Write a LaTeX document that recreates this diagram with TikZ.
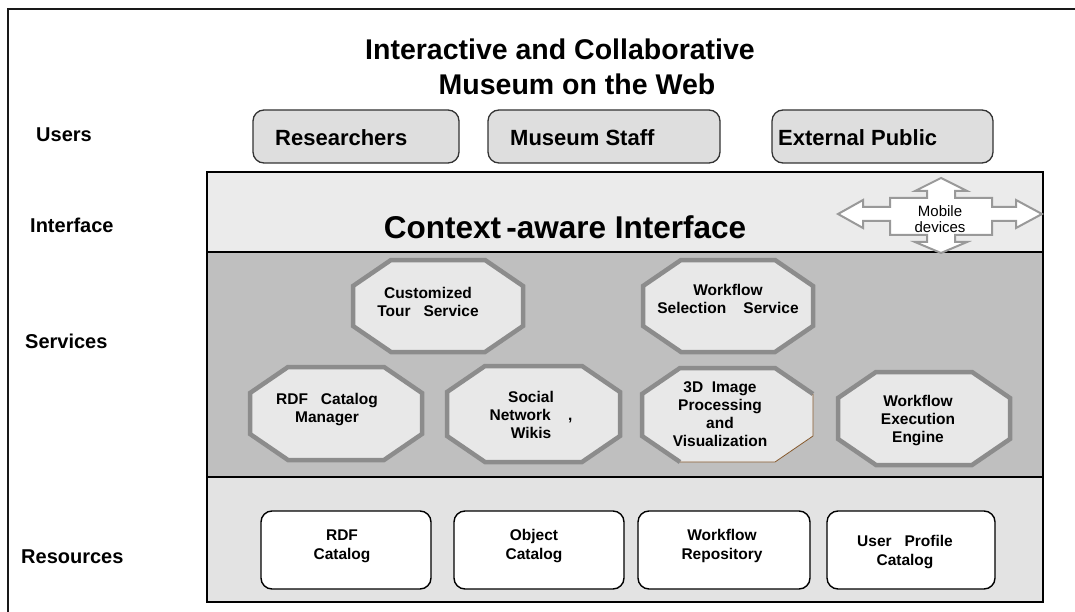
\documentclass[tikz,border=0pt]{standalone}
\usepackage{fontspec}
\setmainfont{Liberation Sans}
\begin{document}
\begin{tikzpicture}[x=1pt,y=-1pt,
  band/.style={draw=black,line width=2.5pt},
  userbox/.style={draw=black!80,line width=1.3pt,fill=black!13,rounded corners=11pt},
  resbox/.style={draw=black,line width=1.4pt,fill=white,rounded corners=11pt},
  octa/.style={draw=black!45,line width=4.5pt,fill=black!9,line join=miter},
  lbl/.style={font=\bfseries\fontsize{20}{24}\selectfont,anchor=base west,inner sep=0},
  utext/.style={font=\bfseries\fontsize{22}{26}\selectfont,anchor=base west,inner sep=0},
  otext/.style={font=\bfseries\fontsize{15.5}{18}\selectfont,align=center,inner sep=0},
  rtext/.style={font=\bfseries\fontsize{15.5}{19}\selectfont,align=center,inner sep=0},
  ttl/.style={font=\bfseries\fontsize{28.5}{34}\selectfont,anchor=base,inner sep=0}]
\useasboundingbox (0,0) rectangle (1075,612);
\fill[white] (0,0) rectangle (1075,612);
% outer frame
\draw[line width=2pt,black!90] (8,612) -- (8,9) -- (1075,9);
% title
\node[ttl] (t1) at (560,60) {Interactive and Collaborative};
\node[ttl] (t2) at (577,95) {Museum on the Web};
% layer labels
\node[lbl] (lu) at (36,142) {Users};
\node[lbl] (li) at (30,233) {Interface};
\node[lbl] (ls) at (25,348) {Services};
\node[lbl] (lr) at (21,563) {Resources};
% user boxes
\draw[userbox] (253,110) rectangle (459,163);
\draw[userbox] (488,110) rectangle (720,163);
\draw[userbox] (772,110) rectangle (993,163);
\node[utext] (u1) at (275,146) {Researchers};
\node[utext] (u2) at (510,146) {Museum Staff};
\node[utext] (u3) at (778,146) {External Public};
% bands
\fill[black!8] (207,172) rectangle (1043,252);
\fill[black!25] (207,252) rectangle (1043,477);
\fill[black!11] (207,477) rectangle (1043,602);
\draw[band] (207,172) rectangle (1043,602);
\draw[band] (207,252) -- (1043,252);
\draw[band] (207,477) -- (1043,477);
\node[font=\bfseries\fontsize{31.5}{36}\selectfont,anchor=base,inner sep=0] (ci) at (565,238) {Context\,-aware Interface};
% mobile devices arrow
\draw[draw=black!40,line width=2pt,fill=white,line join=miter]
 (838,214) -- (863,200) -- (863,207) -- (890,207) -- (890,198) -- (927,198) -- (927,191) -- (915,191)
 -- (941,178) -- (967,191) -- (955,191) -- (955,198) -- (992,198) -- (992,207) -- (1016,207) -- (1016,200)
 -- (1042,214) -- (1016,228) -- (1016,221) -- (992,221) -- (992,235) -- (955,235) -- (955,242) -- (967,242)
 -- (941,253) -- (915,242) -- (927,242) -- (927,235) -- (890,235) -- (890,221) -- (863,221) -- (863,228) -- cycle;
\node[font=\fontsize{15}{16}\selectfont,align=center,inner sep=0] (mob) at (940,219) {Mobile\\devices};
% octagons
\newcommand{\octpath}[4]{({#1},{#2+26}) -- ({#1+38},{#2}) -- ({#3-38},{#2}) -- ({#3},{#2+26}) -- ({#3},{#4-26}) -- ({#3-38},{#4}) -- ({#1+38},{#4}) -- ({#1},{#4-26}) -- cycle}
\draw[octa] \octpath{353}{260}{523}{352};
\draw[octa] \octpath{643}{260}{813}{352};
\draw[octa] \octpath{250}{367}{422}{460};
\draw[octa] \octpath{447}{366}{620}{462};
\fill[black!9] \octpath{642}{368}{813}{462};
\draw[black!45,line width=4.5pt,line join=miter] (813,394) -- (775,368) -- (680,368) -- (642,394) -- (642,436) -- (680,462);
\draw[brown!70!black,line width=0.8pt] (680,462) -- (775,462) -- (813,436) -- (813,394);
\draw[octa] \octpath{838}{372}{1010}{465};
\node[otext] (s1) at (428,302) {Customized\\Tour\ \ \ Service};
\node[otext] (s2) at (728,299) {Workflow\\Selection\ \ \ \ Service};
\node[otext] (s3) at (327,410) {RDF\ \ \ Catalog\\Manager};
\node[otext] (s4) at (531,415) {Social\\Network\ \ \ \ ,\\Wikis};
\node[otext] (s5) at (720,414) {3D\ \ Image\\Processing\\and\\Visualization};
\node[otext] (s6) at (918,421) {Workflow\\Execution\\Engine};
% resource boxes
\draw[resbox] (261,511) rectangle (431,589);
\draw[resbox] (454,511) rectangle (624,589);
\draw[resbox] (638,511) rectangle (810,589);
\draw[resbox] (827,511) rectangle (995,589);
\node[rtext] (r1) at (342,546) {RDF\\Catalog};
\node[rtext] (r2) at (534,546) {Object\\Catalog};
\node[rtext] (r3) at (722,546) {Workflow\\Repository};
\node[rtext] (r4) at (905,552) {User\ \ \ Profile\\Catalog};
\end{tikzpicture}
\end{document}
